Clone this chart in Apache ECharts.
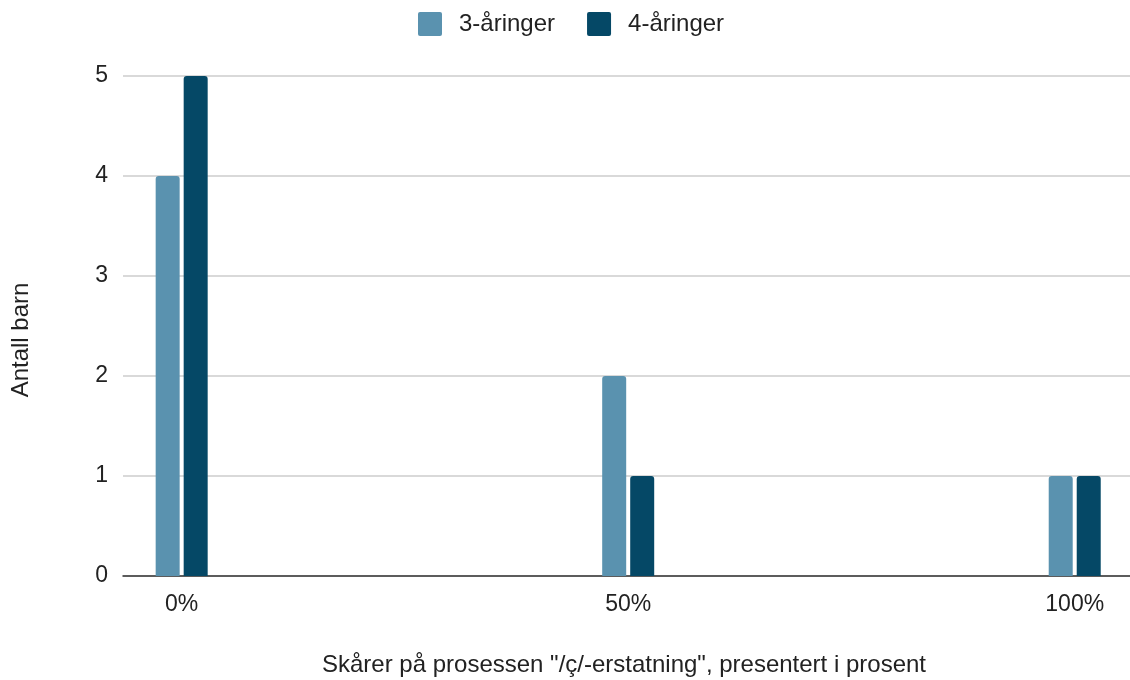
<!DOCTYPE html>
<html>
<head>
<meta charset="utf-8">
<script src="https://cdn.jsdelivr.net/npm/echarts@6/dist/echarts.min.js"></script>
<style>
html,body{margin:0;padding:0;background:#fff;}
#chart{width:1130px;height:680px;}
</style>
</head>
<body>
<div id="chart"></div>
<script>
const categories = [0, 50, 100];
const tickLabels = ['0%', '50%', '100%'];
const seriesNames = ['3-åringer', '4-åringer'];
const values3 = [4, 2, 1];
const values4 = [5, 1, 1];
const yTitle = 'Antall barn';
const xTitle = 'Skårer på prosessen "/ç/-erstatning", presentert i prosent';

const FONT = '"Liberation Sans", Arial, sans-serif';
const chart = echarts.init(document.getElementById('chart'));
chart.setOption({
  animation: false,
  textStyle: { fontFamily: FONT },
  legend: {
    top: 7, left: 413,
    itemWidth: 24, itemHeight: 24, itemGap: 32,
    icon: 'path://M2,0 L22,0 Q24,0 24,2 L24,22 Q24,24 22,24 L2,24 Q0,24 0,22 L0,2 Q0,0 2,0 Z',
    textStyle: { fontSize: 24, color: '#222', fontFamily: FONT, padding: [0, 0, 0, 12] },
    data: seriesNames
  },
  grid: { left: 123, right: 0, top: 76, bottom: 104, containLabel: false },
  xAxis: {
    type: 'value',
    min: -6.57, max: 106.19,
    splitLine: { show: false },
    axisLine: { show: true, onZero: false, lineStyle: { color: '#333', width: 1.5 } },
    axisTick: { show: false },
    axisLabel: {
      customValues: categories,
      formatter: v => tickLabels[categories.indexOf(v)],
      fontSize: 23, color: '#222', margin: 17, fontFamily: FONT
    }
  },
  yAxis: {
    type: 'value', min: 0, max: 5, interval: 1,
    axisLine: { show: false }, axisTick: { show: false },
    axisLabel: { fontSize: 23, color: '#222', margin: 15, fontFamily: FONT },
    splitLine: { lineStyle: { color: '#cccccc', width: 1.5 } }
  },
  graphic: [
    { type: 'text', left: 9, top: 'middle', rotation: Math.PI / 2,
      style: { text: yTitle, fill: '#222', font: '24px ' + FONT } },
    { type: 'text', left: 322, top: 653,
      style: { text: xTitle, fill: '#222', font: '24px ' + FONT } }
  ],
  series: [
    { name: seriesNames[0], type: 'bar', barWidth: 24, barGap: '16.7%',
      itemStyle: { color: '#5a92af', borderRadius: [3, 3, 0, 0] },
      data: categories.map((c, i) => [c, values3[i]]) },
    { name: seriesNames[1], type: 'bar', barWidth: 24, barGap: '16.7%',
      itemStyle: { color: '#054866', borderRadius: [3, 3, 0, 0] },
      data: categories.map((c, i) => [c, values4[i]]) }
  ]
});
</script>
</body>
</html>
